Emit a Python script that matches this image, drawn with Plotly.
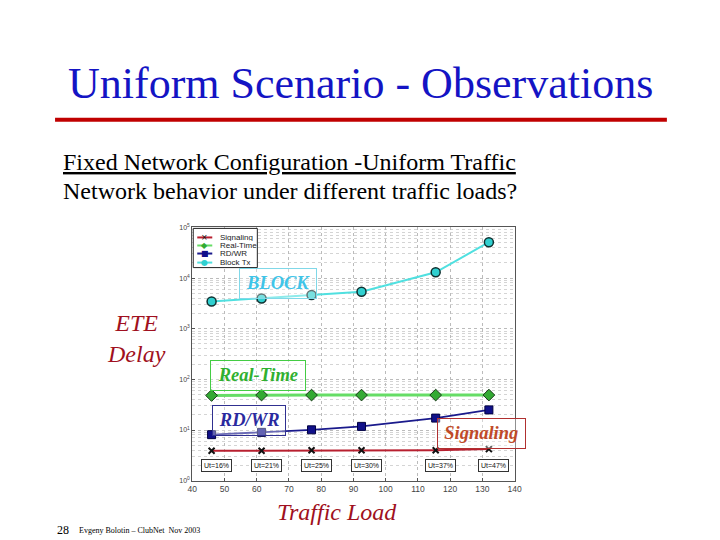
import plotly.graph_objects as go

# ---------------- data ----------------
traffic_load = [46, 61.5, 77, 92.5, 115.5, 132]
signaling = [3.9, 3.9, 4.0, 4.0, 4.0, 4.2]
real_time = [48, 49, 49, 49, 49, 49]
rd_wr = [8.1, 9.0, 10.1, 11.8, 17.2, 25]
block_tx = [3450, 3950, 4620, 5370, 13000, 51000]
utilization = ["Ut=16%", "Ut=21%", "Ut=25%", "Ut=30%", "Ut=37%", "Ut=47%"]
series_names = ["Signaling", "Real-Time", "RD/WR", "Block Tx"]
x_ticks = [40, 50, 60, 70, 80, 90, 100, 110, 120, 130, 140]
y_ticks = [1, 10, 100, 1000, 10000, 100000]
y_tick_text = ["10<sup>0</sup>", "10<sup>1</sup>", "10<sup>2</sup>",
               "10<sup>3</sup>", "10<sup>4</sup>", "10<sup>5</sup>"]

W, H = 720, 540
# the photographed page is slightly offset/scaled; compensate
OFF_X, OFF_Y, SC = 13.0, 12.7, 0.982


def px(x):
    return ((x - OFF_X) / SC) / W


def py(y):
    return 1 - ((y - OFF_Y) / SC) / H


SERIF = "Liberation Serif, Times New Roman, serif"
SANS = "Liberation Sans, Arial, sans-serif"

fig = go.Figure()

fig.add_trace(go.Scatter(
    x=traffic_load, y=signaling, name=series_names[0], mode="lines+markers",
    line=dict(color="#b82030", width=2),
    marker=dict(symbol="x-thin", size=6, color="#111", line=dict(color="#111", width=2))))
fig.add_trace(go.Scatter(
    x=traffic_load, y=real_time, name=series_names[1], mode="lines+markers",
    line=dict(color="#66dd66", width=3),
    marker=dict(symbol="diamond", size=9, color="#33aa33", line=dict(color="#1a3a1a", width=1))))
fig.add_trace(go.Scatter(
    x=traffic_load, y=rd_wr, name=series_names[2], mode="lines+markers",
    line=dict(color="#1a1a8c", width=1.8),
    marker=dict(symbol="square", size=8, color="#10108a", line=dict(color="#000040", width=1))))
fig.add_trace(go.Scatter(
    x=traffic_load, y=block_tx, name=series_names[3], mode="lines+markers",
    line=dict(color="#50e0e0", width=2),
    marker=dict(symbol="circle", size=9, color="#30d0d0", line=dict(color="#103030", width=1.5))))

annotations = []
shapes = []

# utilization boxes
for xv, lab in zip(traffic_load, utilization):
    annotations.append(dict(
        x=xv, y=0.301, xref="x", yref="y", text=lab, showarrow=False, xshift=5,
        font=dict(family=SANS, size=7, color="#111"),
        bgcolor="white", bordercolor="#333", borderwidth=1, borderpad=2))

# slide title
annotations.append(dict(
    x=px(360), y=py(84), xref="paper", yref="paper", text="Uniform Scenario - Observations",
    showarrow=False, xanchor="center", yanchor="middle",
    font=dict(family=SERIF, size=44, color="#1414c4")))
shapes.append(dict(type="line", xref="paper", yref="paper",
                   x0=px(55), x1=px(666), y0=py(120), y1=py(120),
                   line=dict(color="#c00000", width=4)))

annotations.append(dict(
    x=px(61), y=py(162), xref="paper", yref="paper",
    text="<u>Fixed Network Configuration -Uniform Traffic</u>",
    showarrow=False, xanchor="left", yanchor="middle",
    font=dict(family=SERIF, size=24, color="#000")))
annotations.append(dict(
    x=px(61), y=py(191), xref="paper", yref="paper",
    text="Network behavior under different traffic loads?",
    showarrow=False, xanchor="left", yanchor="middle",
    font=dict(family=SERIF, size=24, color="#000")))

# axis captions
annotations.append(dict(
    x=px(136), y=py(338), xref="paper", yref="paper", text="<i>ETE<br>Delay</i>",
    showarrow=False, xanchor="center", yanchor="middle", align="center",
    font=dict(family=SERIF, size=24, color="#a01020")))
annotations.append(dict(
    x=px(337), y=py(510), xref="paper", yref="paper", text="<i>Traffic Load</i>",
    showarrow=False, xanchor="center", yanchor="middle",
    font=dict(family=SERIF, size=24, color="#a01020")))

# footer
annotations.append(dict(
    x=px(55), y=py(528), xref="paper", yref="paper", text="28",
    showarrow=False, xanchor="left", yanchor="middle",
    font=dict(family=SERIF, size=12, color="#000")))
annotations.append(dict(
    x=px(77), y=py(529), xref="paper", yref="paper", text="Evgeny Bolotin – ClubNet  Nov 2003",
    showarrow=False, xanchor="left", yanchor="middle",
    font=dict(family=SERIF, size=8, color="#000")))

# series callouts (centre x, centre y, box width, box height in picture pixels)
callouts = [
    ("BLOCK", 277.5, 283, 77, 30, "#40c4e8", "#80d8e8"),
    ("Real-Time", 258, 374, 94, 30, "#30b030", "#44cc44"),
    ("RD/WR", 248.5, 419, 73, 30, "#2a2aa0", "#303090"),
    ("Signaling", 480.5, 432, 87, 30, "#c04a28", "#b03030"),
]
for txt, cx, cy, w, h, col, bcol in callouts:
    annotations.append(dict(
        x=px(cx), y=py(cy), xref="paper", yref="paper",
        text="<b><i>%s</i></b>" % txt, showarrow=False,
        xanchor="center", yanchor="middle", width=w / SC - 2, height=h / SC - 2,
        font=dict(family=SERIF, size=18.5, color=col),
        bordercolor=bcol, borderwidth=1, borderpad=0,
        bgcolor="rgba(255,255,255,0.35)"))

# custom compact legend (matlab style)
shapes.append(dict(type="rect", xref="paper", yref="paper",
                   x0=px(193), x1=px(257), y0=py(267), y1=py(228),
                   fillcolor="white", line=dict(color="#222", width=1), layer="above"))
leg_rows = [237, 245, 253, 262]
leg_line_colors = ["#b82030", "#66dd66", "#1a1a8c", "#50e0e0"]
leg_glyphs = ["×", "◆", "■", "●"]
leg_glyph_colors = ["#111", "#33aa33", "#10108a", "#30d0d0"]
for yrow, name, lc, g, gc in zip(leg_rows, series_names, leg_line_colors, leg_glyphs, leg_glyph_colors):
    shapes.append(dict(type="line", xref="paper", yref="paper",
                       x0=px(197), x1=px(212), y0=py(yrow), y1=py(yrow),
                       line=dict(color=lc, width=2), layer="above"))
    annotations.append(dict(
        x=px(204.5), y=py(yrow), xref="paper", yref="paper", text=g, showarrow=False,
        xanchor="center", yanchor="middle", height=7,
        font=dict(family="DejaVu Sans", size=8, color=gc)))
    annotations.append(dict(
        x=px(218), y=py(yrow), xref="paper", yref="paper", text=name, showarrow=False,
        xanchor="left", yanchor="middle", height=7,
        font=dict(family=SANS, size=8, color="#222")))

fig.update_layout(
    width=W, height=H, margin=dict(l=0, r=0, t=0, b=0),
    paper_bgcolor="white", plot_bgcolor="white", showlegend=False,
    annotations=annotations, shapes=shapes,
    xaxis=dict(
        domain=[px(192), px(514)], range=[40, 140], tickvals=x_ticks,
        showgrid=True, gridcolor="#bbbbbb", griddash="dot", gridwidth=1,
        ticks="inside", ticklen=3, tickcolor="#555", zeroline=False,
        showline=True, mirror=True, linecolor="#555", linewidth=1,
        tickfont=dict(family=SANS, size=8.5, color="#444")),
    yaxis=dict(
        domain=[py(479), py(227)], type="log", range=[0, 5],
        tickvals=y_ticks, ticktext=y_tick_text,
        showgrid=True, gridcolor="#bbbbbb", griddash="dot", gridwidth=1,
        minor=dict(showgrid=True, gridcolor="#d4d4d4", griddash="dot", dtick="D1"),
        ticks="inside", ticklen=3, tickcolor="#555", zeroline=False,
        showline=True, mirror=True, linecolor="#555", linewidth=1,
        tickfont=dict(family=SANS, size=7, color="#444")),
)

fig.write_html("out.html")
